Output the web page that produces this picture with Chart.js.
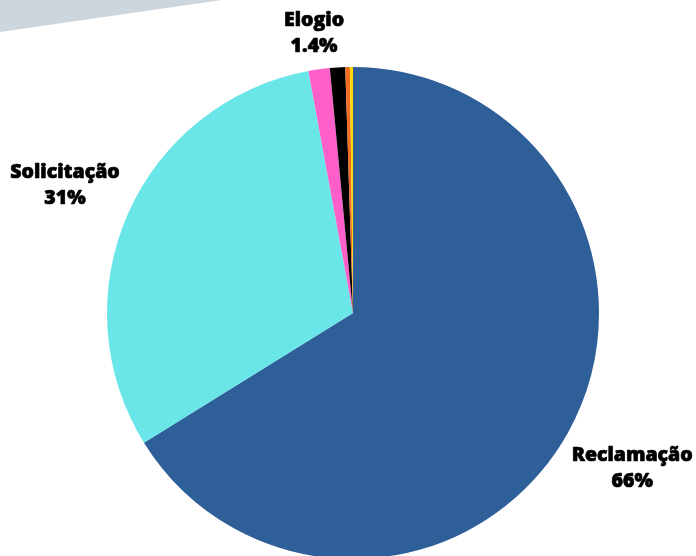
<!DOCTYPE html>
<html>
<head>
<meta charset="utf-8">
<script src="https://cdn.jsdelivr.net/npm/chart.js@4.4.1/dist/chart.umd.min.js"></script>
<style>
  html, body { margin: 0; padding: 0; background: #fff; overflow: hidden; }
  .wrap { position: relative; width: 696px; height: 600px; }
  .band {
    position: absolute; left: 0; top: 0; width: 696px; height: 60px;
    background: #cdd5dd;
    clip-path: polygon(0 0, 222px 0, 0 32px);
  }
  canvas { position: absolute; left: 0; top: 0; }
</style>
</head>
<body>
<div class="wrap">
  <div class="band"></div>
  <canvas id="pieChart" width="696" height="600"></canvas>
</div>
<script>
const categories = ["Reclamação", "Solicitação", "Elogio", "Denúncia", "Sugestão", "Informação"];
const shares = [66.1, 30.9, 1.4, 1.0, 0.3, 0.2];
const shownLabels = ["66%", "31%", "1.4%", null, null, null];
const colors = ["#2e5f99", "#6ae5e8", "#ff5fc9", "#000000", "#f26c22", "#ffd800"];

// draws the name + percent outside the slice, like datalabels anchor end
const outsideLabels = {
  id: "outsideLabels",
  afterDatasetsDraw(chart) {
    const ctx = chart.ctx;
    const meta = chart.getDatasetMeta(0);
    ctx.save();
    ctx.font = "800 19.5px 'Open Sans'";
    ctx.fillStyle = "#000";
    ctx.strokeStyle = "#000";
    ctx.lineWidth = 0.7;
    ctx.lineJoin = "round";
    ctx.textAlign = "center";
    ctx.textBaseline = "middle";
    meta.data.forEach((arc, i) => {
      if (!shownLabels[i]) return;
      const p = arc.getProps(["x", "y", "startAngle", "endAngle", "outerRadius"], true);
      const mid = (p.startAngle + p.endAngle) / 2;
      const dx = Math.cos(mid), dy = Math.sin(mid);
      const hw = Math.max(ctx.measureText(categories[i]).width, ctx.measureText(shownLabels[i]).width) / 2;
      const hh = 22;
      const r = p.outerRadius + 10 + Math.abs(dx) * hw + Math.abs(dy) * hh;
      const cx = p.x + dx * r, cy = p.y + dy * r;
      [[categories[i], cy - 13], [shownLabels[i], cy + 13]].forEach(([t, ty]) => {
        ctx.fillText(t, cx, ty);
        ctx.strokeText(t, cx, ty);
      });
    });
    ctx.restore();
  }
};

const chart = new Chart(document.getElementById("pieChart").getContext("2d"), {
  type: "pie",
  data: {
    labels: categories,
    datasets: [{
      data: shares,
      backgroundColor: colors,
      borderWidth: 0
    }]
  },
  options: {
    responsive: false,
    animation: false,
    layout: { padding: { left: 107, right: 97, top: 67, bottom: 41 } },
    plugins: {
      legend: { display: false },
      tooltip: { enabled: false }
    }
  },
  plugins: [outsideLabels]
});
</script>
</body>
</html>
